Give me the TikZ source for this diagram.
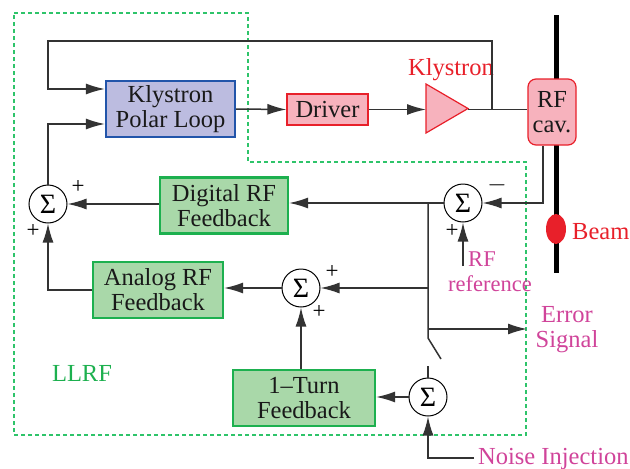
\documentclass[tikz,border=0pt]{standalone}
\usepackage{fontspec}
\setmainfont{Liberation Serif}
\usetikzlibrary{arrows.meta,shapes.geometric}
\definecolor{lavf}{HTML}{BCBCE0}
\definecolor{lavd}{HTML}{2255AA}
\definecolor{pinkf}{HTML}{F7B2BD}
\definecolor{redd}{HTML}{E8202A}
\definecolor{grnf}{HTML}{A9D8A9}
\definecolor{grnd}{HTML}{1DB04F}
\definecolor{dashg}{HTML}{2EC46A}
\definecolor{mag}{HTML}{D0449A}
\definecolor{wire}{HTML}{333333}
\begin{document}
\begin{tikzpicture}[x=1pt,y=-1pt,
  txt/.style={font=\fontsize{24.5}{25}\selectfont, align=center, text=black!90},
  box/.style={txt, draw, line width=2.2pt, inner sep=0pt},
  plbox/.style={box, fill=lavf, draw=lavd},
  pbox/.style={box, fill=pinkf, draw=redd, line width=1.2pt},
  gbox/.style={box, fill=grnf, draw=grnd},
  sumnode/.style={circle, draw=black, line width=1pt, minimum size=38pt, inner sep=0pt, fill=white, font=\fontsize{28}{28}\selectfont},
  wirel/.style={draw=wire, line width=1.5pt},
  arr/.style={wirel, -{Latex[length=19pt,width=11pt]}},
  sgn/.style={font=\fontsize{23}{23}\selectfont, inner sep=0pt},
  lbl/.style={font=\fontsize{24.5}{25}\selectfont, inner sep=0pt, align=center}
]
\useasboundingbox (0,0) rectangle (630,469);
% LLRF dashed boundary
\draw[dashg, line width=1.2pt, dash pattern=on 4pt off 3pt]
  (14,13) -- (248,13) -- (248,162) -- (526,162) -- (526,435) -- (14,435) -- cycle;
% beam
\draw[line width=5pt] (556,15) -- (556,273);
\node[ellipse, fill=redd, minimum width=20pt, minimum height=30pt, inner sep=0pt] (beam) at (556,229) {};
\node[lbl, text=redd, anchor=west] (beaml) at (572,232) {Beam};
% boxes
\node[plbox, minimum width=129pt, minimum height=56pt] (pl) at (170.5,109) {Klystron\\Polar Loop};
\node[pbox, minimum width=81pt, minimum height=31pt] (drv) at (327.5,109.5) {Driver};
\node[pbox, rounded corners=8pt, minimum width=48pt, minimum height=66pt] (cav) at (552,112) {RF\\cav.};
\node[gbox, minimum width=128pt, minimum height=56pt] (dig) at (224,205.5) {Digital RF\\Feedback};
\node[gbox, minimum width=130pt, minimum height=56pt] (an) at (158,290) {Analog RF\\Feedback};
\node[gbox, minimum width=142pt, minimum height=56pt] (t1) at (304,398) {1{\textendash}Turn\\Feedback};
% klystron triangle
\coordinate (kin) at (426,109.5);
\coordinate (kout) at (468,109.5);
\filldraw[fill=pinkf, draw=redd, line width=1.2pt] (426,84) -- (468,108.5) -- (426,133) -- cycle;
\node[lbl, text=redd] (kl) at (451,70) {Klystron};
% sums
\node[sumnode] (s1) at (48,204) {Σ};
\node[sumnode] (s2) at (463,203) {Σ};
\node[sumnode] (s3) at (301,288) {Σ};
\node[sumnode] (s4) at (428,397) {Σ};
% signs
\node[sgn] (p1a) at (78,187) {+};
\node[sgn] (p1b) at (33,231) {+};
\node[sgn] (m2) at (497,185) {$-$};
\node[sgn] (p2) at (452,231) {+};
\node[sgn] (p3a) at (332,272) {+};
\node[sgn] (p3b) at (319,312) {+};
% coordinates
\coordinate (tap) at (492,109.5);
\coordinate (lt) at (48,41);
\coordinate (j1) at (428,203);
\coordinate (j2) at (428,288);
\coordinate (j3) at (428,329);
\coordinate (err) at (527,329);
\coordinate (sw) at (428,338);
\coordinate (swe) at (441,359);
\coordinate (s4in) at (428,366);
\coordinate (ni) at (474,458);
\coordinate (rf) at (463,266);
% connectors
\draw[arr] (pl.east) -- (drv.west);
\draw[arr] (drv.east) -- (kin);
\draw[wirel] (kout) -- (kout -| cav.west);
\draw[arr] (tap) |- (lt) |- ([yshift=20pt]pl.west);
\draw[arr] (s1.north) |- ([yshift=-15pt]pl.west);
\draw[arr] ([xshift=-9pt]cav.south) |- (s2.east);
\draw[arr] (s2.west) -- (s2.west -| dig.east);
\draw[arr] (s1.east -| dig.west) -- (s1.east);
\draw[wirel] (j1) -- (sw) -- (swe);
\draw[arr] (j2) -- (s3.east);
\draw[arr] (j3) -- (err);
\draw[wirel] (s4in) -- (s4.north);
\draw[arr] (ni) -| (s4.south);
\draw[arr] (s4.west) -- (s4.west -| t1.east);
\draw[arr] (s3.south |- t1.north) -- (s3.south);
\draw[arr] (s3.west) -- (s3.west -| an.east);
\draw[arr] (an.west) -| (s1.south);
\draw[arr] (rf) -- (s2.south);
% labels
\node[font=\fontsize{22.5}{22}\selectfont, inner sep=0pt, text=mag] (rfl) at (482,259) {RF};
\node[font=\fontsize{22.5}{22}\selectfont, inner sep=0pt, text=mag] (refl) at (490,284) {reference};
\node[lbl, text=mag] (errl) at (567,330) {Error\\Signal};
\node[lbl, text=mag, anchor=west] (noil) at (478,459) {Noise Injection};
\node[lbl, text=grnd] (llrf) at (82,373) {LLRF};
\end{tikzpicture}
\end{document}
